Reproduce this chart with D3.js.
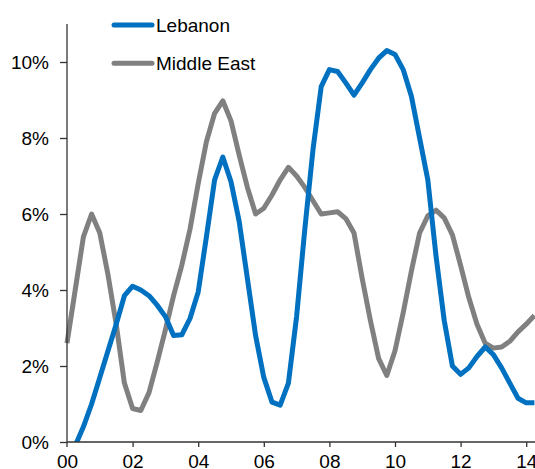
<!DOCTYPE html>
<html>
<head>
<meta charset="utf-8">
<script src="https://cdn.jsdelivr.net/npm/d3@7"></script>
<style>
  body { margin: 0; background: #fff; }
  svg { display: block; font-family: "Liberation Sans", Arial, sans-serif; }
</style>
</head>
<body>
<svg id="chart" width="535" height="469"></svg>
<script>
// Quarterly periods, 2000Q1 .. 2014Q2
var quarters = [
  '2000Q1','2000Q2','2000Q3','2000Q4','2001Q1','2001Q2','2001Q3','2001Q4',
  '2002Q1','2002Q2','2002Q3','2002Q4','2003Q1','2003Q2','2003Q3','2003Q4',
  '2004Q1','2004Q2','2004Q3','2004Q4','2005Q1','2005Q2','2005Q3','2005Q4',
  '2006Q1','2006Q2','2006Q3','2006Q4','2007Q1','2007Q2','2007Q3','2007Q4',
  '2008Q1','2008Q2','2008Q3','2008Q4','2009Q1','2009Q2','2009Q3','2009Q4',
  '2010Q1','2010Q2','2010Q3','2010Q4','2011Q1','2011Q2','2011Q3','2011Q4',
  '2012Q1','2012Q2','2012Q3','2012Q4','2013Q1','2013Q2','2013Q3','2013Q4',
  '2014Q1','2014Q2'
];

// growth rates, %
var lebanon = [
  -0.6, -0.1, 0.4, 1.0, 1.7, 2.4, 3.1, 3.85,
  4.1, 4.0, 3.85, 3.6, 3.3, 2.8, 2.82, 3.25,
  3.95, 5.4, 6.9, 7.5, 6.85, 5.8, 4.3, 2.8,
  1.7, 1.05, 0.97, 1.55, 3.3, 5.6, 7.7, 9.35,
  9.8, 9.75, 9.45, 9.13, 9.45, 9.8, 10.1, 10.3,
  10.2, 9.8, 9.1, 8.0, 6.9, 4.9, 3.2, 2.0,
  1.78, 1.95, 2.25, 2.5, 2.3, 1.95, 1.55, 1.15,
  1.03, 1.03
];
var middleEast = [
  2.6, 4.0, 5.4, 6.0, 5.5, 4.4, 3.1, 1.55,
  0.88, 0.83, 1.3, 2.1, 2.95, 3.85, 4.65, 5.6,
  6.8, 7.9, 8.65, 8.98, 8.45, 7.55, 6.7, 6.0,
  6.15, 6.5, 6.9, 7.23, 7.0, 6.7, 6.35, 6.0,
  6.03, 6.06, 5.88, 5.5, 4.3, 3.2, 2.2, 1.75,
  2.4, 3.4, 4.5, 5.5, 5.95, 6.1, 5.9, 5.45,
  4.65, 3.8, 3.1, 2.6, 2.47, 2.5, 2.65, 2.9,
  3.1, 3.33
];

var seriesNames = ['Lebanon', 'Middle East'];
var yTicks = [0, 2, 4, 6, 8, 10];
var xTicks = [2000, 2002, 2004, 2006, 2008, 2010, 2012, 2014];

var colors = { 'Lebanon': '#0070c0', 'Middle East': '#808080' };

// turn '2003Q2' into 2003.25
var toYear = function (q) {
  return +q.slice(0, 4) + (+q.slice(5) - 1) / 4;
};

var drawChart = function () {
  let svg = d3.select('#chart');

  let x = d3.scaleLinear().domain([2000, 2014]).range([67, 526.2]);
  let y = d3.scaleLinear().domain([0, 11]).range([442, 24]);

  // clip the lines to the plot area
  svg.append('clipPath').attr('id', 'plot-clip')
    .append('rect')
    .attr('x', x(2000) - 3).attr('y', 0)
    .attr('width', 540).attr('height', y(0));

  let line = d3.line()
    .x((d) => x(d.t))
    .y((d) => y(d.v));

  let rows = {
    'Lebanon': quarters.map((q, i) => ({ t: toYear(q), v: lebanon[i] })),
    'Middle East': quarters.map((q, i) => ({ t: toYear(q), v: middleEast[i] }))
  };

  let g = svg.append('g').attr('clip-path', 'url(#plot-clip)');
  ['Middle East', 'Lebanon'].forEach((name) => {
    g.append('path')
      .datum(rows[name])
      .attr('d', line)
      .attr('fill', 'none')
      .attr('stroke', colors[name])
      .attr('stroke-width', 5)
      .attr('stroke-linejoin', 'round');
  });

  // y axis
  let yAxis = svg.append('g')
    .attr('transform', `translate(${x(2000)},0)`)
    .call(d3.axisLeft(y).tickValues(yTicks).tickSize(7).tickPadding(11)
      .tickFormat((d) => d + '%'));
  yAxis.select('.domain').attr('d', `M0,${y(11)}V${y(0) + 5}`);

  // x axis
  let xAxis = svg.append('g')
    .attr('transform', `translate(0,${y(0)})`)
    .call(d3.axisBottom(x).tickValues(xTicks).tickSize(5).tickPadding(10)
      .tickFormat((d) => String(d % 100).padStart(2, '0')));
  xAxis.select('.domain').attr('d', `M${x(2000)},0H535`);

  svg.selectAll('.domain').attr('stroke', '#333').attr('stroke-width', 1.3);
  svg.selectAll('.tick line').attr('stroke', '#333').attr('stroke-width', 1.3);
  svg.selectAll('.tick text')
    .attr('font-family', '"Liberation Sans", Arial, sans-serif')
    .attr('font-size', 19)
    .attr('fill', '#000');
  xAxis.selectAll('.tick text').attr('dy', null).attr('y', 26);
  xAxis.select('.tick line').remove();

  // legend
  let legend = svg.append('g');
  seriesNames.forEach((name, i) => {
    let ly = 25 + i * 38.3;
    legend.append('line')
      .attr('x1', 114).attr('x2', 152)
      .attr('y1', ly).attr('y2', ly)
      .attr('stroke', colors[name])
      .attr('stroke-width', 5)
      .attr('stroke-linecap', 'round');
    legend.append('text')
      .attr('x', 156).attr('y', ly + 6.8)
      .attr('font-size', 19)
      .attr('fill', '#000')
      .text(name);
  });
};

document.addEventListener('DOMContentLoaded', function () {
  drawChart();
}, false);
</script>
</body>
</html>
